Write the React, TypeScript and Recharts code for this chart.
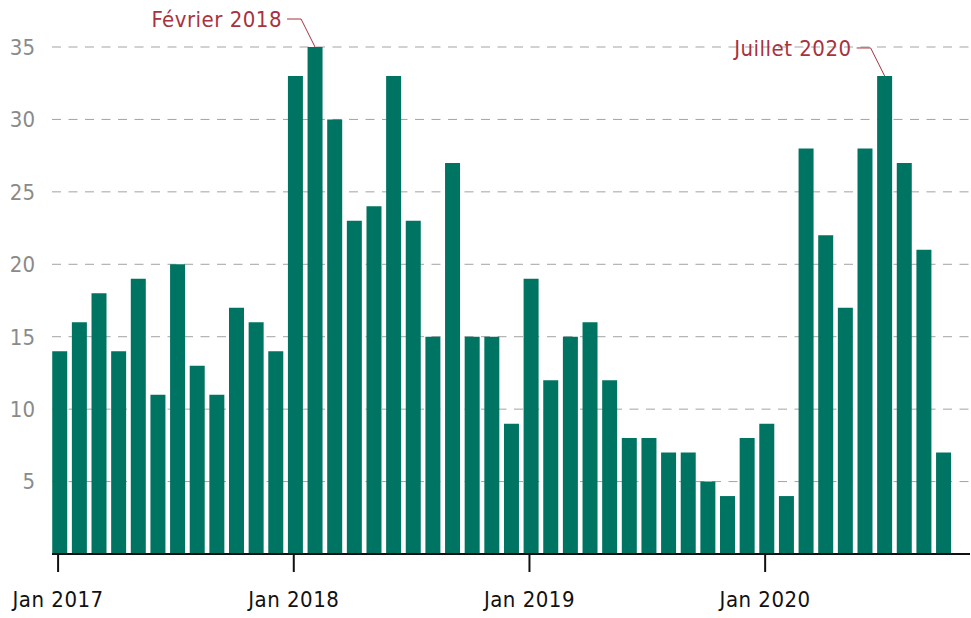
import { BarChart, Bar, XAxis, YAxis, CartesianGrid, LabelList } from 'recharts'

// monthly counts, Jan 2017 -> Oct 2020
const values = [
  14, 16, 18, 14, 19, 11, 20, 13, 11, 17, 16, 14,
  33, 35, 30, 23, 24, 33, 23, 15, 27, 15, 15, 9,
  19, 12, 15, 16, 12, 8, 8, 7, 7, 5, 4, 8,
  9, 4, 28, 22, 17, 28, 33, 27, 21, 7,
]
const years = [2017, 2018, 2019, 2020]
const yTicks = [5, 10, 15, 20, 25, 30, 35]
const annotations: Record<number, string> = { 13: 'Février 2018', 42: 'Juillet 2020' }

const data = values.map((v, i) => ({
  idx: i,
  month: `${years[0] + Math.floor(i / 12)}-${String((i % 12) + 1).padStart(2, '0')}`,
  value: v,
}))

const xTicks = years.map((_, k) => k * 12 - 0.1)

const FONT = '"Liberation Sans Narrow", "DejaVu Sans Condensed", Arial, sans-serif'
const RED = '#a8323e'

function AnnotationLabel(props: any) {
  const { x, y, width, index } = props
  const text = annotations[index]
  if (!text) return null
  const cx = x + width / 2
  const ly = y - 28
  return (
    <g>
      <polyline
        points={`${cx - 28},${ly} ${cx - 14},${ly} ${cx},${y}`}
        fill="none"
        stroke={RED}
        strokeWidth={1}
      />
      <text
        x={cx - 33}
        y={ly}
        dy="0.35em"
        textAnchor="end"
        fill={RED}
        fontSize={22}
        fontFamily={FONT}
        letterSpacing={0.5}
      >
        {text}
      </text>
    </g>
  )
}

export default function App() {
  return (
    <div style={{ position: 'absolute', left: 0, top: 0, background: '#fff' }}>
      <style>{`body{margin:0}`}</style>
      <BarChart
        width={971}
        height={618}
        data={data}
        margin={{ top: 47, right: 1, bottom: 0, left: 0 }}
      >
        <CartesianGrid
          vertical={false}
          stroke="#a3a3a3"
          strokeDasharray="9 7.5"
        />
        <XAxis
          dataKey="idx"
          type="number"
          domain={[-0.41, 46.33]}
          ticks={xTicks}
          tickFormatter={(v: number) => `Jan ${years[Math.round((v + 0.1) / 12)]}`}
          height={64}
          axisLine={{ stroke: '#111', strokeWidth: 2 }}
          tickLine={{ stroke: '#111', strokeWidth: 2 }}
          tickSize={18}
          tickMargin={19}
          tick={{ fill: '#111', fontSize: 22, fontFamily: FONT, letterSpacing: 0.5 }}
          interval={0}
        />
        <YAxis
          domain={[0, 35]}
          ticks={yTicks}
          width={52}
          axisLine={false}
          tickLine={false}
          tickSize={0}
          tickMargin={17}
          tick={{ fill: '#8a8a8a', fontSize: 22, fontFamily: FONT }}
        />
        <Bar dataKey="value" fill="#007462" barSize={15} isAnimationActive={false}>
          <LabelList dataKey="value" content={AnnotationLabel} />
        </Bar>
      </BarChart>
    </div>
  )
}
